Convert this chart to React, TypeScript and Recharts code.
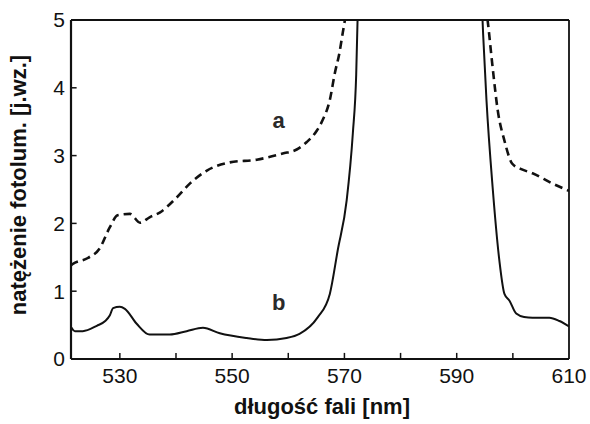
import React from 'react';
import { LineChart, Line, XAxis, YAxis, ReferenceDot, ReferenceLine } from 'recharts';

// Curve a (dashed): left branch up to the clipped peak, then the right branch
const aLeftNm = [521.3, 521.6, 524.3, 526.4, 528.2, 529.6, 531.8, 533.6, 535.3, 537.1, 540.1, 542.5, 545.5, 549.6, 554.4, 559.0, 561.5, 563.3, 565.1, 566.1, 567.4, 568.3, 569.1, 569.7, 570.4];
const aLeftVal = [1.38, 1.40, 1.49, 1.63, 1.94, 2.12, 2.14, 2.01, 2.09, 2.16, 2.38, 2.59, 2.78, 2.90, 2.94, 3.03, 3.09, 3.20, 3.37, 3.52, 3.82, 4.22, 4.51, 4.81, 5.15];
const aRightNm = [595.2, 595.5, 596.4, 597.3, 598.5, 599.9, 601.5, 603.5, 607.0, 610.0];
const aRightVal = [5.2, 5.0, 4.30, 3.67, 3.22, 2.88, 2.80, 2.74, 2.59, 2.48];

// Curve b (solid)
const bLeftNm = [521.3, 522.0, 523.4, 525.9, 527.4, 528.2, 528.8, 530.0, 530.9, 533.0, 535.3, 538.9, 541.9, 544.8, 547.8, 552.6, 556.2, 559.7, 562.0, 565.2, 567.4, 568.8, 570.4, 571.5, 572.1, 572.4];
const bLeftVal = [0.47, 0.41, 0.41, 0.49, 0.56, 0.64, 0.75, 0.77, 0.74, 0.52, 0.36, 0.36, 0.41, 0.46, 0.38, 0.31, 0.28, 0.31, 0.37, 0.61, 0.96, 1.60, 2.34, 3.33, 4.20, 5.2];
const bRightNm = [594.5, 594.7, 595.3, 596.4, 597.6, 598.5, 599.4, 600.6, 602.0, 603.5, 606.5, 608.3, 610.0];
const bRightVal = [5.2, 4.8, 3.82, 2.53, 1.45, 0.96, 0.86, 0.67, 0.62, 0.61, 0.61, 0.56, 0.48];

const xTicks = [530, 540, 550, 560, 570, 580, 590, 600, 610];
const xLabeled = [530, 550, 570, 590, 610];
const yTicks = [0, 1, 2, 3, 4, 5];
// short inward tick marks
const xMinor = [530, 540, 550, 560, 570, 580, 590, 600];
const yMinor = [1, 2, 3, 4];

const xMin = 521.3;
const xMax = 610;
const yMax = 5;
const gapNm = 583;
const xTickLen = 0.09; // intensity units
const yTickLen = 1.0; // nm

type Pt = { nm: number; v: number | null };

function build(lx: number[], ly: number[], rx: number[], ry: number[]): Pt[] {
  const left = lx.map((nm, i) => ({ nm, v: ly[i] }));
  const right = rx.map((nm, i) => ({ nm, v: ry[i] }));
  return [...left, { nm: gapNm, v: null }, ...right];
}

const dataA = build(aLeftNm, aLeftVal, aRightNm, aRightVal);
const dataB = build(bLeftNm, bLeftVal, bRightNm, bRightVal);

const FONT = '"Liberation Sans", Arial, Helvetica, sans-serif';
const INK = '#111111';

export default function App() {
  return (
    <div style={{ position: 'absolute', left: 0, top: 0, width: 590, height: 424, background: '#fff' }}>
      <LineChart width={590} height={424} margin={{ top: 20, right: 21, bottom: 35, left: 0 }}>
        <XAxis
          dataKey="nm"
          type="number"
          domain={[xMin, xMax]}
          allowDataOverflow
          ticks={xTicks}
          interval={0}
          tickSize={0}
          tickMargin={9}
          tickLine={false}
          height={30}
          axisLine={{ stroke: INK, strokeWidth: 2.2 }}
          tickFormatter={(t: number) => (xLabeled.includes(t) ? String(t) : '')}
          tick={{ fill: INK, fontSize: 21, fontFamily: FONT }}
        />
        <YAxis
          type="number"
          domain={[0, yMax]}
          allowDataOverflow
          ticks={yTicks}
          interval={0}
          tickSize={0}
          tickMargin={6}
          tickLine={false}
          width={71}
          axisLine={{ stroke: INK, strokeWidth: 2.2 }}
          tick={{ fill: INK, fontSize: 21, fontFamily: FONT }}
        />
        {/* top and right edges of the box */}
        <ReferenceLine segment={[{ x: xMin, y: yMax }, { x: xMax, y: yMax }]} stroke={INK} strokeWidth={2} ifOverflow="visible" />
        <ReferenceLine segment={[{ x: xMax, y: 0 }, { x: xMax, y: yMax }]} stroke={INK} strokeWidth={1.8} ifOverflow="visible" />
        {xMinor.map((t) => (
          <ReferenceLine key={`xt${t}`} segment={[{ x: t, y: 0 }, { x: t, y: xTickLen }]} stroke={INK} strokeWidth={1.5} ifOverflow="visible" />
        ))}
        {yMinor.map((t) => (
          <ReferenceLine key={`yt${t}`} segment={[{ x: xMin, y: t }, { x: xMin + yTickLen, y: t }]} stroke={INK} strokeWidth={1.5} ifOverflow="visible" />
        ))}
        <Line
          data={dataA}
          dataKey="v"
          type="monotone"
          stroke={INK}
          strokeWidth={2.6}
          strokeDasharray="8 5"
          dot={false}
          activeDot={false}
          connectNulls={false}
          isAnimationActive={false}
        />
        <Line
          data={dataB}
          dataKey="v"
          type="monotone"
          stroke={INK}
          strokeWidth={2}
          dot={false}
          activeDot={false}
          connectNulls={false}
          isAnimationActive={false}
        />
        <ReferenceDot
          x={558.3}
          y={3.52}
          r={0}
          fill="none"
          stroke="none"
          label={{ value: 'a', position: 'center', fontSize: 22, fontWeight: 'bold', fill: '#2a2a2a', fontFamily: FONT }}
        />
        <ReferenceDot
          x={558.3}
          y={0.84}
          r={0}
          fill="none"
          stroke="none"
          label={{ value: 'b', position: 'center', fontSize: 22, fontWeight: 'bold', fill: '#2a2a2a', fontFamily: FONT }}
        />
        <text x={322} y={414} textAnchor="middle" fontFamily={FONT} fontSize={22} fontWeight="bold" fill={INK}>
          długość fali [nm]
        </text>
        <text
          x={26}
          y={185}
          transform="rotate(-90, 26, 185)"
          textAnchor="middle"
          fontFamily={FONT}
          fontSize={22}
          fontWeight="bold"
          fill={INK}
        >
          natężenie fotolum. [j.wz.]
        </text>
      </LineChart>
    </div>
  );
}
